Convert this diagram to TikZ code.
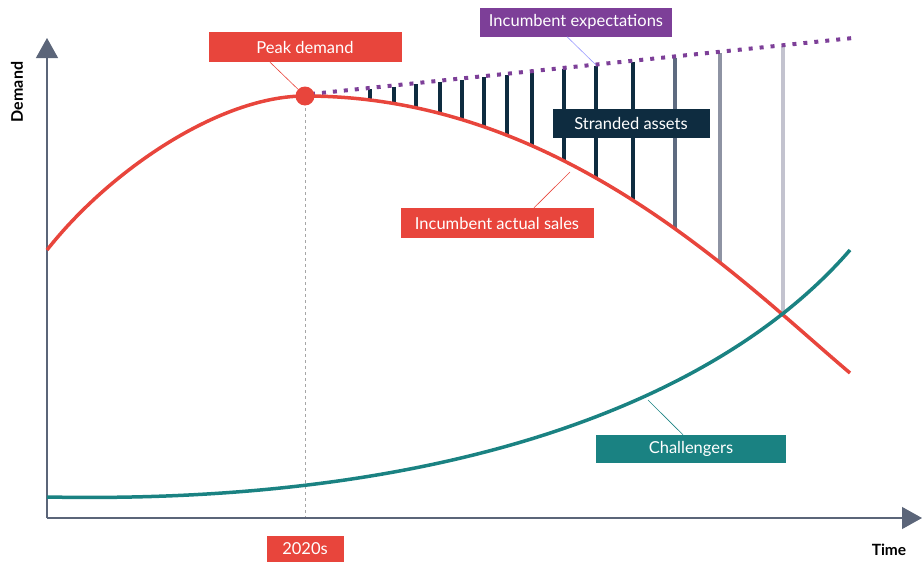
\documentclass[tikz,border=0pt]{standalone}
\usepackage{fontspec}
\setmainfont{Lato}
\usetikzlibrary{arrows.meta}
\definecolor{salesred}{HTML}{E8453C}
\definecolor{expectpurple}{HTML}{7D3F98}
\definecolor{assetnavy}{HTML}{0E2C40}
\definecolor{challteal}{HTML}{1A8282}
\definecolor{axisgray}{HTML}{5B6579}
\definecolor{barA}{HTML}{5E6B80}
\definecolor{barB}{HTML}{8E93A3}
\definecolor{barC}{HTML}{C3C3CF}
\begin{document}
\begin{tikzpicture}[x=1pt,y=-1pt,
    labelbox/.style={fill=#1,text=white,inner sep=0pt,minimum height=29pt,font=\fontsize{16.5}{19}\selectfont},
    axis/.style={draw=axisgray,line width=1.2pt,-{Triangle[width=22pt,length=20pt,fill=axisgray]}},
    leader/.style={draw=#1,line width=0.6pt}]
    \useasboundingbox (0,0) rectangle (922,562);
    \coordinate (origin) at (47,518);
    \coordinate (ytop) at (47,38);
    \coordinate (xend) at (922,518);
    % stranded assets, cut off at the sales curve
    \begin{scope}
        \clip (305,96) .. controls (560,96) and (740,280) .. (850,373) -- (850,0) -- (305,0) -- cycle;
        \foreach \x/\c in {370/assetnavy,394/assetnavy,416/assetnavy,440/assetnavy,462/assetnavy,484/assetnavy,
            507/assetnavy,532/assetnavy,564/assetnavy,596/assetnavy,633/assetnavy,675/barA,720/barB,783/barC}
            \draw[\c, line width=3.5pt] (\x, {96-0.104*(\x-305)}) -- (\x, 400);
    \end{scope}
    \draw[expectpurple, line width=4pt, dash pattern=on 4pt off 7pt] (311,94) -- (853,38);
    \draw[gray!70, dashed, line width=0.6pt] (305,96) -- (305,518);
    \draw[axis] (origin) -- (ytop);
    \draw[axis] (origin) -- (xend);
    \draw[salesred, line width=3.5pt] (47,250) .. controls (110,170) and (220,96) .. (305,96)
        .. controls (560,96) and (740,280) .. (850,373);
    \draw[challteal, line width=3.5pt] (47,497) .. controls (450,505) and (720,400) .. (850,250);
    \node[circle, fill=salesred, minimum size=19pt, inner sep=0pt] (peakdot) at (305,96) {};
    \node[rotate=90, font=\fontsize{16}{19}\selectfont\bfseries] (demand) at (17,92) {Demand};
    \node[font=\fontsize{15.5}{19}\selectfont\bfseries] (time) at (889,550) {Time};
    \node[labelbox=salesred, minimum width=193pt, minimum height=30pt] (peak) at (305,47) {Peak demand};
    \node[labelbox=expectpurple, minimum width=192pt] (expect) at (576,22) {Incumbent expectations};
    \node[labelbox=assetnavy, minimum width=157pt] (stranded) at (631,123) {Stranded assets};
    \node[labelbox=salesred, minimum width=193pt, minimum height=30pt] (actual) at (497,223) {Incumbent actual sales};
    \node[labelbox=challteal, minimum width=190pt, minimum height=28pt] (chall) at (691,449) {Challengers};
    \node[labelbox=salesred, minimum width=77pt, minimum height=26pt] (decade) at (305,549) {2020s};
    \coordinate (expectpt) at (596,65);
    \coordinate (actualpt) at (570,172);
    \coordinate (challpt) at (648,400);
    \draw[leader=salesred] ([xshift=-35pt]peak.south) -- (peakdot);
    \draw[leader=blue!40] ([xshift=-9pt]expect.south) -- (expectpt);
    \draw[leader=salesred] ([xshift=37pt]actual.north) -- (actualpt);
    \draw[leader=challteal] ([xshift=-8pt]chall.north) -- (challpt);
\end{tikzpicture}
\end{document}
